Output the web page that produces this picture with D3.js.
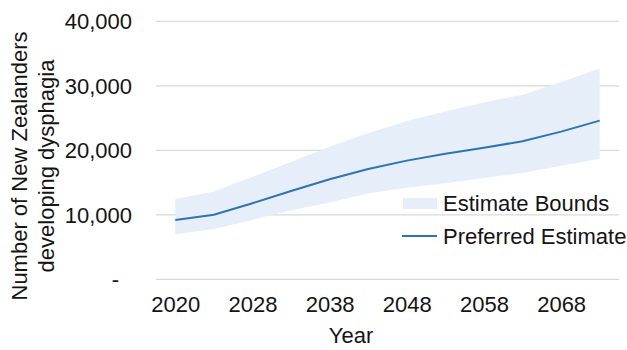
<!DOCTYPE html>
<html lang="en">
  <head>
    <meta charset="utf-8">
    <title>Dysphagia projection</title>
    <script src="https://cdn.jsdelivr.net/npm/d3@7"></script>
    <style>
      body { margin: 0; background: #fff; }
      text { font-family: "Liberation Sans", Arial, sans-serif; fill: #141414; }
    </style>
  </head>
  <body>
    <script>
      // categories (every 5 years after 2023), every second one labelled
      const years = ["2020", "2023", "2028", "2033", "2038", "2043", "2048", "2053", "2058", "2063", "2068", "2073"];
      const preferred = [9200, 10000, 11800, 13700, 15500, 17100, 18400, 19450, 20400, 21400, 22900, 24600];
      const upper = [12450, 13600, 15900, 18200, 20550, 22700, 24550, 26000, 27400, 28600, 30600, 32700];
      const lower = [7000, 7800, 9200, 10700, 11900, 13300, 14200, 14900, 15700, 16500, 17600, 18700];
      const yTicks = [0, 10000, 20000, 30000, 40000];

      const W = 627, H = 350;
      const LEFT = 156, RIGHT = 619, TOP = 21.3, BOTTOM = 279.3;
      const FONT = 22;

      var svg = d3.select("body").append("svg")
        .attr("width", W)
        .attr("height", H);

      var x = d3.scalePoint()
        .domain(years)
        .range([LEFT, RIGHT])
        .padding(0.5);

      var y = d3.scaleLinear()
        .domain([0, 40000])
        .range([BOTTOM, TOP]);

      // gridlines
      svg.append("g")
        .selectAll("line")
        .data(yTicks)
        .join("line")
        .attr("x1", LEFT)
        .attr("x2", RIGHT)
        .attr("y1", d => y(d))
        .attr("y2", d => y(d))
        .attr("stroke", "#d9d9d9")
        .attr("stroke-width", 1.3);

      // y tick labels, zero shown as a dash (accounting format)
      svg.append("g")
        .selectAll("text")
        .data(yTicks)
        .join("text")
        .attr("x", d => d === 0 ? 119 : 132)
        .attr("y", d => y(d) + 8)
        .attr("text-anchor", "end")
        .attr("font-size", FONT)
        .text(d => d === 0 ? "-" : d3.format(",")(d));

      // x axis labels
      var xAxis = d3.axisBottom(x)
        .tickValues(years.filter((d, i) => i % 2 === 0 && i < 11))
        .tickSize(0)
        .tickPadding(0);

      svg.append("g")
        .attr("transform", "translate(0," + 296 + ")")
        .call(xAxis)
        .call(g => g.select(".domain").remove())
        .selectAll("text")
        .attr("font-size", FONT)
        .attr("font-family", "Liberation Sans, Arial, sans-serif")
        .attr("fill", "#141414");

      // band
      var area = d3.area()
        .x((d, i) => x(years[i]))
        .y0((d, i) => y(lower[i]))
        .y1((d, i) => y(upper[i]));

      svg.append("path")
        .datum(upper)
        .attr("d", area)
        .attr("fill", "#e6eef9");

      // preferred estimate line
      var line = d3.line()
        .x((d, i) => x(years[i]))
        .y(d => y(d));

      svg.append("path")
        .datum(preferred)
        .attr("d", line)
        .attr("fill", "none")
        .attr("stroke", "#2e74b5")
        .attr("stroke-width", 2);

      // legend
      var legend = svg.append("g");
      legend.append("rect")
        .attr("x", 403)
        .attr("y", 198)
        .attr("width", 34)
        .attr("height", 11)
        .attr("fill", "#e6eef9");
      legend.append("text")
        .attr("x", 443)
        .attr("y", 211)
        .attr("font-size", FONT)
        .text("Estimate Bounds");
      legend.append("line")
        .attr("x1", 402)
        .attr("x2", 437)
        .attr("y1", 236)
        .attr("y2", 236)
        .attr("stroke", "#2e74b5")
        .attr("stroke-width", 2);
      legend.append("text")
        .attr("x", 443)
        .attr("y", 243.5)
        .attr("font-size", FONT)
        .text("Preferred Estimate");

      // axis titles
      svg.append("text")
        .attr("x", 351)
        .attr("y", 343)
        .attr("text-anchor", "middle")
        .attr("font-size", FONT)
        .text("Year");

      var yTitle = svg.append("text")
        .attr("transform", "translate(26.5,166) rotate(-90)")
        .attr("text-anchor", "middle")
        .attr("font-size", FONT);
      yTitle.append("tspan")
        .attr("x", 0)
        .attr("y", 0)
        .text("Number of New Zealanders");
      yTitle.append("tspan")
        .attr("x", 0)
        .attr("y", 27)
        .text("developing dysphagia");
    </script>
  </body>
</html>
